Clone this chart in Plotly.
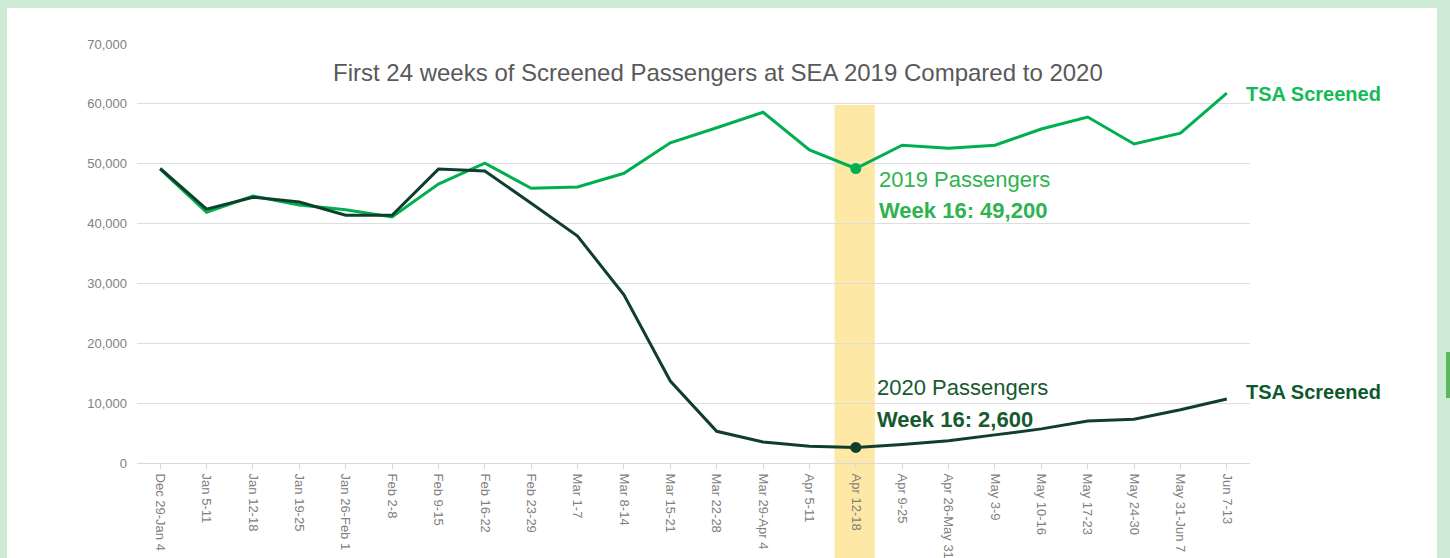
import plotly.graph_objects as go

weeks = ["Dec 29-Jan 4", "Jan 5-11", "Jan 12-18", "Jan 19-25", "Jan 26-Feb 1", "Feb 2-8",
         "Feb 9-15", "Feb 16-22", "Feb 23-29", "Mar 1-7", "Mar 8-14", "Mar 15-21",
         "Mar 22-28", "Mar 29-Apr 4", "Apr 5-11", "Apr 12-18", "Apr 9-25", "Apr 26-May 31",
         "May 3-9", "May 10-16", "May 17-23", "May 24-30", "May 31-Jun 7", "Jun 7-13"]
pax_2019 = [49100, 41900, 44600, 43100, 42300, 41100, 46600, 50100, 45900, 46100, 48400, 53500,
            56000, 58600, 52300, 49200, 53100, 52600, 53100, 55800, 57800, 53300, 55100, 61800]
pax_2020 = [49200, 42400, 44400, 43600, 41400, 41400, 49100, 48800, 43400, 37900, 28100, 13700,
            5300, 3500, 2800, 2600, 3100, 3700, 4700, 5700, 7000, 7300, 8900, 10700]
y_ticks = [0, 10000, 20000, 30000, 40000, 50000, 60000, 70000]
highlight_idx = 15

C19 = "#00b050"
C20 = "#0f3f2c"

fig = go.Figure()
fig.add_trace(go.Scatter(x=weeks, y=pax_2019, mode="lines", line=dict(color=C19, width=3),
                         showlegend=False, hoverinfo="skip"))
fig.add_trace(go.Scatter(x=weeks, y=pax_2020, mode="lines", line=dict(color=C20, width=3),
                         showlegend=False, hoverinfo="skip"))
fig.add_trace(go.Scatter(x=[weeks[highlight_idx]], y=[pax_2019[highlight_idx]], mode="markers",
                         marker=dict(color=C19, size=11), showlegend=False, hoverinfo="skip"))
fig.add_trace(go.Scatter(x=[weeks[highlight_idx]], y=[pax_2020[highlight_idx]], mode="markers",
                         marker=dict(color=C20, size=11), showlegend=False, hoverinfo="skip"))

shapes = [
    # white panel
    dict(type="rect", xref="paper", yref="paper", x0=-0.1168, x1=1.168, y0=-0.4, y1=1.086,
         fillcolor="white", line=dict(width=0), layer="below"),
    # green strip at right edge
    dict(type="rect", xref="paper", yref="paper", x0=(1446 - 137) / 1113, x1=(1452 - 137) / 1113,
         y0=(463 - 398) / 419, y1=(463 - 352) / 419, fillcolor="#5cb85c", line=dict(width=0), layer="below"),
    # highlight band
    dict(type="rect", xref="x", yref="paper", x0=highlight_idx - 0.46, x1=highlight_idx + 0.41,
         y0=-0.3, y1=59800 / 70000, fillcolor="#fde8a6", line=dict(width=0), layer="between"),
]

SANS = "Liberation Sans, Arial, sans-serif"
annotations = [
    dict(text="First 24 weeks of Screened Passengers at SEA 2019 Compared to 2020",
         xref="paper", yref="paper", x=(718 - 137) / 1113, y=(463 - 72) / 419, showarrow=False,
         xanchor="center", yanchor="middle", font=dict(family=SANS, size=24, color="#595959")),
    dict(text="2019 Passengers", xref="x", yref="paper", x=highlight_idx, xshift=21,
         y=(463 - 179) / 419, showarrow=False, xanchor="left", yanchor="middle",
         font=dict(family=SANS, size=22, color="#2fb350")),
    dict(text="<b>Week 16: 49,200</b>", xref="x", yref="paper", x=highlight_idx, xshift=21,
         y=(463 - 210) / 419, showarrow=False, xanchor="left", yanchor="middle",
         font=dict(family=SANS, size=22, color="#2fb350")),
    dict(text="2020 Passengers", xref="x", yref="paper", x=highlight_idx, xshift=19,
         y=(463 - 387) / 419, showarrow=False, xanchor="left", yanchor="middle",
         font=dict(family=SANS, size=22, color="#175a30")),
    dict(text="<b>Week 16: 2,600</b>", xref="x", yref="paper", x=highlight_idx, xshift=19,
         y=(463 - 419) / 419, showarrow=False, xanchor="left", yanchor="middle",
         font=dict(family=SANS, size=22, color="#175a30")),
    dict(text="<b>TSA Screened</b>", xref="paper", yref="paper", x=(1244 - 137) / 1113,
         y=(463 - 94) / 419, showarrow=False, xanchor="left", yanchor="middle",
         font=dict(family=SANS, size=20, color="#12bb58")),
    dict(text="<b>TSA Screened</b>", xref="paper", yref="paper", x=(1244 - 137) / 1113,
         y=(463 - 392) / 419, showarrow=False, xanchor="left", yanchor="middle",
         font=dict(family=SANS, size=20, color="#0c5a2c")),
]

fig.update_layout(
    width=1450, height=558,
    margin=dict(l=137, r=200, t=44, b=95),
    paper_bgcolor="#cdebd5",
    plot_bgcolor="rgba(0,0,0,0)",
    shapes=shapes,
    annotations=annotations,
    font=dict(family=SANS, color="#808080", size=13),
    xaxis=dict(type="category", categoryorder="array", categoryarray=weeks,
               range=[-0.5, len(weeks) - 0.5], tickangle=90, showgrid=False,
               showline=True, linecolor="#d9d9d9", linewidth=1, automargin=False,
               ticks="outside", ticklen=5, tickcolor="#d9d9d9", ticklabelstandoff=2,
               tickfont=dict(size=13, color="#808080"), zeroline=False),
    yaxis=dict(range=[0, 70000], tickvals=y_ticks, tickformat=",", showgrid=True,
               gridcolor="#dedede", gridwidth=1, zeroline=False, showline=False,
               ticks="", ticklabelstandoff=9, automargin=False,
               tickfont=dict(size=13, color="#808080")),
)

fig.write_html("out.html", config={"displayModeBar": False},
               post_script="document.body.style.margin='0';")
